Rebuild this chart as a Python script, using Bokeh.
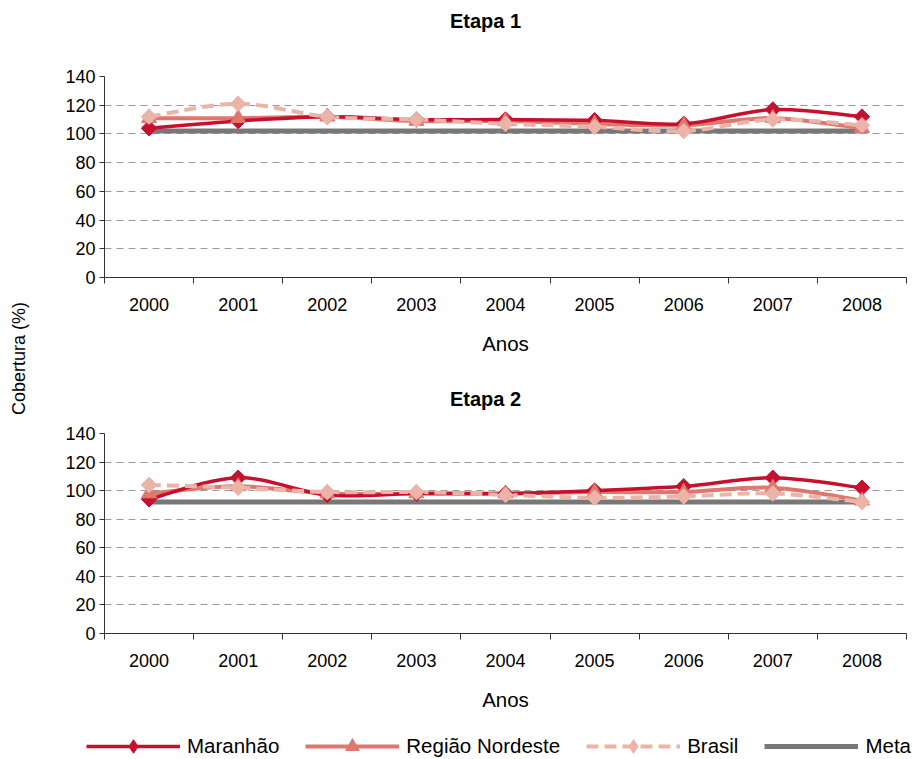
import math
from bokeh.plotting import figure
from bokeh.models import (Range1d, FixedTicker, Legend, LegendItem,
                          ColumnDataSource, Label)
from bokeh.layouts import row, column
from bokeh.embed import file_html
from bokeh.resources import INLINE

# ---------------- data ----------------
years = ["2000", "2001", "2002", "2003", "2004", "2005", "2006", "2007", "2008"]
y_ticks = [0, 20, 40, 60, 80, 100, 120, 140]

# Etapa 1
maranhao_1 = [104, 109, 112, 110, 110, 109.5, 107, 117, 112]
regiao_1 = [111, 111, 112, 109, 109, 107, 106, 111, 104]
brasil_1 = [112, 121, 112, 110, 107, 105, 102, 110, 106]
meta_1 = [102, 102, 102, 102, 102, 102, 102, 102, 102]

# Etapa 2
maranhao_2 = [94, 109, 97, 98, 98, 100, 103, 109, 102]
regiao_2 = [98, 103, 98, 98, 98, 99, 99, 102, 93]
brasil_2 = [104, 102, 99, 99, 97, 95, 96, 98, 92]
meta_2 = [92, 92, 92, 92, 92, 92, 92, 92, 92]

series_names = ["Maranhão", "Região Nordeste", "Brasil", "Meta"]

# ---------------- style ----------------
FONT = "Liberation Sans"
C_MAR = "#c8102e"
C_REG = "#de786e"
C_BRA = "#ecb4a8"
C_META = "#787878"
AXIS_C = "#333333"
FS = "18px"
FS_BIG = "20.5px"
SOLID = "1000 0"
W = 884


def smooth_source(xs, ys):
    """Bezier control points (Excel-like smoothing) computed from the data."""
    n = len(xs)
    d = dict(x0=[], y0=[], x1=[], y1=[], cx0=[], cy0=[], cx1=[], cy1=[])
    for i in range(n - 1):
        xm, ym = (xs[i - 1], ys[i - 1]) if i > 0 else (xs[i], ys[i])
        xp, yp = (xs[i + 2], ys[i + 2]) if i + 2 < n else (xs[i + 1], ys[i + 1])
        d["x0"].append(xs[i]); d["y0"].append(ys[i])
        d["x1"].append(xs[i + 1]); d["y1"].append(ys[i + 1])
        d["cx0"].append(xs[i] + (xs[i + 1] - xm) / 6.0)
        d["cy0"].append(ys[i] + (ys[i + 1] - ym) / 6.0)
        d["cx1"].append(xs[i + 1] - (xp - xs[i]) / 6.0)
        d["cy1"].append(ys[i + 1] - (yp - ys[i]) / 6.0)
    return ColumnDataSource(d)


def blank_strip(width, height, border_left=74, border_right=8):
    s = figure(width=width, height=height, x_range=Range1d(0, 1),
               y_range=Range1d(0, 1), output_backend="svg", toolbar_location=None,
               min_border_left=border_left, min_border_right=border_right,
               min_border_top=0, min_border_bottom=0)
    s.axis.visible = False
    s.grid.visible = False
    s.outline_line_color = None
    return s


def title_strip(text, height, y_center_from_top):
    s = blank_strip(W, height)
    s.add_layout(Label(x=381, y=height - y_center_from_top,
                       x_units="screen", y_units="screen",
                       text=text, text_align="center", text_baseline="middle",
                       text_font=FONT, text_font_size="20px",
                       text_font_style="bold", text_color="black"))
    return s


def make_chart(mar, reg, bra, meta, height, border_top, border_bottom):
    xs = list(range(len(years)))
    p = figure(width=W, height=height,
               x_range=Range1d(-0.5, len(years) - 0.5),
               y_range=Range1d(y_ticks[0], y_ticks[-1]),
               output_backend="svg", toolbar_location=None,
               min_border_left=74, min_border_right=8,
               min_border_top=border_top, min_border_bottom=border_bottom)
    p.outline_line_color = None
    p.background_fill_color = "white"
    p.border_fill_color = "white"

    # x axis: labels at category centres, tick marks at category boundaries
    xa = p.xaxis[0]
    xa.ticker = FixedTicker(ticks=xs,
                            minor_ticks=[i - 0.5 for i in range(len(years) + 1)])
    xa.major_label_overrides = {i: y for i, y in enumerate(years)}
    xa.major_tick_line_color = None
    xa.major_tick_out = 6
    xa.major_tick_in = 0
    xa.minor_tick_line_color = AXIS_C
    xa.minor_tick_out = 6
    xa.minor_tick_in = 0
    xa.axis_line_color = AXIS_C
    xa.major_label_standoff = 14
    xa.major_label_text_font = FONT
    xa.major_label_text_font_size = FS
    xa.major_label_text_color = "black"
    xa.axis_label = "Anos"
    xa.axis_label_text_font = FONT
    xa.axis_label_text_font_size = FS_BIG
    xa.axis_label_text_font_style = "normal"
    xa.axis_label_text_color = "black"
    xa.axis_label_standoff = 18

    ya = p.yaxis[0]
    ya.ticker = FixedTicker(ticks=y_ticks)
    ya.axis_line_color = AXIS_C
    ya.major_tick_line_color = AXIS_C
    ya.major_tick_out = 5
    ya.major_tick_in = 0
    ya.minor_tick_line_color = None
    ya.major_label_standoff = 4
    ya.major_label_text_font = FONT
    ya.major_label_text_font_size = FS
    ya.major_label_text_color = "black"

    p.xgrid.grid_line_color = None
    p.ygrid.ticker = FixedTicker(ticks=y_ticks[1:])
    p.ygrid.grid_line_color = "#9a9a9a"
    p.ygrid.grid_line_dash = "7 5"
    p.ygrid.grid_line_width = 1

    # lines
    p.line(xs, meta, line_color=C_META, line_width=5, line_dash=SOLID)
    p.bezier(x0="x0", y0="y0", x1="x1", y1="y1", cx0="cx0", cy0="cy0",
             cx1="cx1", cy1="cy1", source=smooth_source(xs, reg),
             line_color=C_REG, line_width=4, line_dash=SOLID)
    p.bezier(x0="x0", y0="y0", x1="x1", y1="y1", cx0="cx0", cy0="cy0",
             cx1="cx1", cy1="cy1", source=smooth_source(xs, mar),
             line_color=C_MAR, line_width=3.5, line_dash=SOLID)
    p.bezier(x0="x0", y0="y0", x1="x1", y1="y1", cx0="cx0", cy0="cy0",
             cx1="cx1", cy1="cy1", source=smooth_source(xs, bra),
             line_color=C_BRA, line_width=4, line_dash="12 6")

    # markers
    p.scatter(xs, mar, marker="square", angle=math.pi / 4, size=11,
              fill_color=C_MAR, line_color=C_MAR, line_dash=SOLID)
    p.scatter(xs, reg, marker="triangle", size=15,
              fill_color=C_REG, line_color=C_REG, line_dash=SOLID)
    p.scatter(xs, bra, marker="square", angle=math.pi / 4, size=11,
              fill_color=C_BRA, line_color=C_BRA, line_dash=SOLID)
    return p


t1 = title_strip("Etapa 1", 40, 20)
p1 = make_chart(maranhao_1, regiao_1, brasil_1, meta_1,
                height=320, border_top=36, border_bottom=83)
t2 = title_strip("Etapa 2", 50, 38)
p2 = make_chart(maranhao_2, regiao_2, brasil_2, meta_2,
                height=308, border_top=23, border_bottom=85)

# ---------------- legend strip (full window width) ----------------
xs = list(range(len(years)))
pleg = blank_strip(914, 41, border_left=0, border_right=0)
pleg.y_range = Range1d(1000, 1001)  # series sit outside the strip: only legend shows
lm = pleg.line(xs, maranhao_2, line_color=C_MAR, line_width=3.5, line_dash=SOLID)
sm = pleg.scatter(xs, maranhao_2, marker="diamond",
                  fill_color=C_MAR, line_color=C_MAR, line_dash=SOLID)
lr = pleg.line(xs, regiao_2, line_color=C_REG, line_width=4, line_dash=SOLID)
sr = pleg.scatter(xs, regiao_2, marker="triangle",
                  fill_color=C_REG, line_color=C_REG, line_dash=SOLID)
lb = pleg.line(xs, brasil_2, line_color=C_BRA, line_width=4, line_dash="12 6")
sb = pleg.scatter(xs, brasil_2, marker="diamond",
                  fill_color=C_BRA, line_color=C_BRA, line_dash=SOLID)
lt = pleg.line(xs, meta_2, line_color=C_META, line_width=5, line_dash=SOLID)

legend = Legend(items=[
    LegendItem(label=series_names[0], renderers=[lm, sm]),
    LegendItem(label=series_names[1], renderers=[lr, sr]),
    LegendItem(label=series_names[2], renderers=[lb, sb]),
    LegendItem(label=series_names[3], renderers=[lt]),
])
legend.orientation = "horizontal"
legend.location = (86, -4)
legend.border_line_color = None
legend.background_fill_alpha = 0
legend.glyph_width = 94
legend.glyph_height = 34
legend.label_standoff = 7
legend.spacing = 26
legend.padding = 0
legend.margin = 0
legend.label_text_font = FONT
legend.label_text_font_size = FS_BIG
legend.label_text_color = "black"
legend.label_height = 34
pleg.add_layout(legend)

# shared y-axis label
pl = figure(width=30, height=718, x_range=Range1d(0, 30), y_range=Range1d(0, 718),
            output_backend="svg", toolbar_location=None, min_border=0)
pl.axis.visible = False
pl.grid.visible = False
pl.outline_line_color = None
pl.add_layout(Label(x=18, y=718 - 358, text="Cobertura (%)", angle=math.pi / 2,
                    text_align="center", text_baseline="middle",
                    text_font=FONT, text_font_size=FS, text_color="black"))

layout = column(row(pl, column(t1, p1, t2, p2)), pleg)

open("out.html", "w").write(file_html(layout, INLINE))
